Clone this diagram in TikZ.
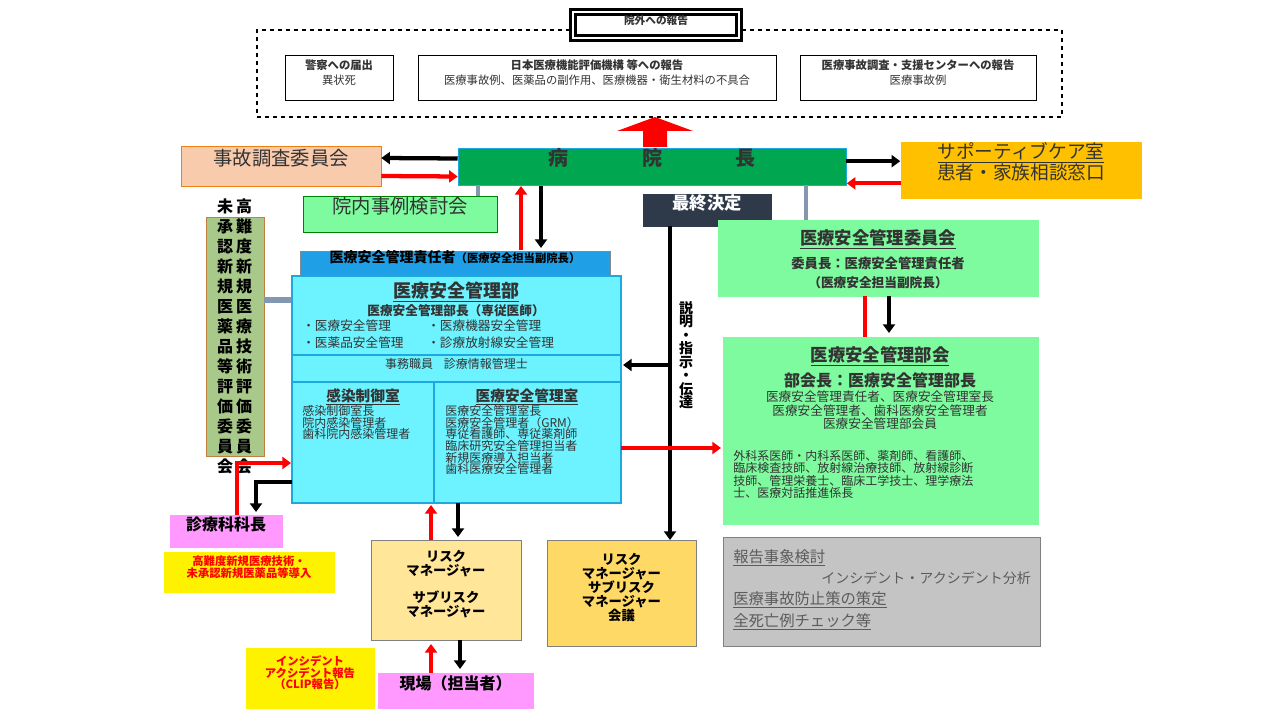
\documentclass[tikz,border=0pt]{standalone}
\usepackage{fontspec}
\setmainfont{Noto Sans CJK JP}
\usetikzlibrary{arrows.meta,fit}
\newcommand{\fsz}[1]{\fontsize{#1}{\fpeval{#1*1.25}}\selectfont}
\definecolor{hgreen}{HTML}{00A650}
\definecolor{peach}{HTML}{F8CBAD}
\definecolor{supy}{HTML}{FFC000}
\definecolor{lgreen}{HTML}{7DFB9E}
\definecolor{cyanb}{HTML}{6CF3FF}
\definecolor{cyanl}{HTML}{1EA8E0}
\definecolor{blueb}{HTML}{1E9FE6}
\definecolor{olive}{HTML}{A9C98A}
\definecolor{pinkb}{HTML}{FF99FF}
\definecolor{rmy}{HTML}{FFE699}
\definecolor{rmy2}{HTML}{FFD966}
\definecolor{grayb}{HTML}{C4C4C4}
\definecolor{navy}{HTML}{2E3A4A}
\definecolor{conn}{HTML}{8497B0}
\definecolor{txt}{HTML}{333333}
\begin{document}
\begin{tikzpicture}[x=0.75pt,y=-0.75pt,
  box/.style={draw, inner sep=0pt, align=center, text=txt},
  ar/.style={line width=3.2pt,-{Triangle[width=9pt,length=6.5pt]}},
  blk/.style={ar,black}, rd/.style={ar,red}]
\useasboundingbox (0,0) rectangle (1280,720);
\fill[white] (0,0) rectangle (1280,720);
% top
\node[draw,dashed,thick,inner sep=0, fit={(257,30)(1062,117)}] (outer) {};
\node[box,line width=2.4pt,double,double distance=1.2pt,fill=white,fit={(573,12)(739,38)},font=\fsz{8}\bfseries] (tt) {院外への報告};
\node[box,fit={(285,55)(393,100)},font=\fsz{8.5}] (pol) {\textbf{警察への届出}\\異状死};
\node[box,fit={(418,55)(776,100)},font=\fsz{8.5}] (jq) {\textbf{日本医療機能評価機構 等への報告}\\医療事故例、医薬品の副作用、医療機器・衛生材料の不具合};
\node[box,fit={(800,55)(1036,100)},font=\fsz{8.5}] (ctr) {\textbf{医療事故調査・支援センターへの報告}\\医療事故例};
\fill[red] (643,147)--(643,131)--(617,131)--(655,117)--(693,131)--(667,131)--(667,147)--cycle;
% hospital director
\node[box,draw=cyanl,fill=hgreen,fit={(458,148)(846,185)},font=\fsz{15}\bfseries] (hosp) {病\hspace{55pt}院\hspace{55pt}長};
\node[box,draw=orange!70!brown,fill=peach,fit={(181,146)(381,186)},font=\fsz{14.5}] (jiko) {事故調査委員会};
\node[box,draw=supy,fill=supy,fit={(901,142)(1141,198)},font=\fsz{14}] (sup) {\underline{サポーティブケア室}\\[-2pt]患者・家族相談窓口};
\draw[blk] ([yshift=6pt]hosp.west) -- ([yshift=6pt]jiko.east);
\draw[rd] ([yshift=-7.5pt]jiko.east) -- ([yshift=-7.5pt]hosp.west);
\draw[blk] ([yshift=4pt]hosp.east) -- ++(54,0);
\draw[rd] ([yshift=-10pt]sup.west) -- ++(-54,0);
% connectors gray
\draw[conn,line width=3pt] (478,185) -- (478,196);
\draw[conn,line width=3pt] (806,185) -- (806,220);
\node[box,draw=green!50!black,fill=lgreen,fit={(303,196)(497,232)},font=\fsz{14.5}] (innai) {院内事例検討会};
\node[box,draw=navy,fill=navy,text=white,fit={(643,194)(771,226)},font=\fsz{13}\bfseries] (final) {最終決定};
% vertical olive
\node[box,draw=brown,fill=olive,fit={(206,217)(264,456)},text=black] (olv) {};
\node[font=\fsz{12}\bfseries,align=center,inner sep=0] at (244,336) {高\\難\\度\\新\\規\\医\\療\\技\\術\\評\\価\\委\\員\\会};
\node[font=\fsz{12}\bfseries,align=center,inner sep=0] at (225,336) {未\\承\\認\\新\\規\\医\\薬\\品\\等\\評\\価\\委\\員\\会};
\draw[conn,line width=5pt] (264,300) -- (292,300);
% arrows hosp <-> responsible
\draw[rd] (521,250) -- (521,186);
\draw[blk] (541,186) -- (541,248);
\node[box,draw=navy!60,fill=blueb,fit={(300,251)(610,275)},font=\fsz{10.5}\bfseries,text=black] (resp) {医療安全管理責任者{\fsz{8.5}（医療安全担当副院長）}};
% dept
\node[box,draw=cyanl,line width=1.5pt,fill=cyanb,fit={(292,276)(621,503)}] (dept) {};
\node[box,draw=cyanl,line width=1.5pt,fit={(292,355)(621,382)},font=\fsz{9}] (jimu) {事務職員\hspace{8pt}診療情報管理士};
\node[box,draw=cyanl,line width=1.5pt,fit={(292,382)(434,503)}] (kan) {};
\node[box,draw=cyanl,line width=1.5pt,fit={(434,382)(621,503)}] (anz) {};
\node[font=\fsz{13.5}\bfseries,inner sep=0,text=txt] at (456,292) {\underline{医療安全管理部}};
\node[font=\fsz{9.5}\bfseries,inner sep=0,text=txt] at (456,311) {医療安全管理部長（専従医師）};
\node[font=\fsz{9.5},inner sep=0,text=txt,anchor=west] at (302,326) {・医療安全管理};
\node[font=\fsz{9.5},inner sep=0,text=txt,anchor=west] at (302,343) {・医薬品安全管理};
\node[font=\fsz{9.5},inner sep=0,text=txt,anchor=west] at (427,326) {・医療機器安全管理};
\node[font=\fsz{9.5},inner sep=0,text=txt,anchor=west] at (427,343) {・診療放射線安全管理};
\node[font=\fsz{11}\bfseries,inner sep=0,text=txt] at (363,397) {\underline{感染制御室}};
\node[font=\fsz{9},inner sep=0,text=txt,anchor=north west,align=left] at (302,405) {感染制御室長\\[-2.5pt]院内感染管理者\\[-2.5pt]歯科院内感染管理者};
\node[font=\fsz{11}\bfseries,inner sep=0,text=txt] at (527,397) {\underline{医療安全管理室}};
\node[font=\fsz{9},inner sep=0,text=txt,anchor=north west,align=left] at (445,405) {医療安全管理室長\\[-2.5pt]医療安全管理者（GRM）\\[-2.5pt]専従看護師、専従薬剤師\\[-2.5pt]臨床研究安全管理担当者\\[-2.5pt]新規医療導入担当者\\[-2.5pt]歯科医療安全管理者};
% committees
\node[box,draw=lgreen,fill=lgreen,fit={(718,220)(1038,296)}] (iin) {};
\node[font=\fsz{13}\bfseries,inner sep=0,text=txt] at (878,239) {\underline{医療安全管理委員会}};
\node[font=\fsz{10}\bfseries,inner sep=0,text=txt] at (878,263) {委員長：医療安全管理責任者};
\node[font=\fsz{9.5}\bfseries,inner sep=0,text=txt] at (878,283) {（医療安全担当副院長）};
\node[box,draw=lgreen,fill=lgreen,fit={(723,337)(1038,524)}] (bukai) {};
\node[font=\fsz{13}\bfseries,inner sep=0,text=txt] at (880,356) {\underline{医療安全管理部会}};
\node[font=\fsz{12}\bfseries,inner sep=0,text=txt] at (880,380) {部会長：医療安全管理部長};
\node[font=\fsz{9.5},inner sep=0,text=txt,align=center,anchor=north] at (880,391) {医療安全管理責任者、医療安全管理室長\\[-2pt]医療安全管理者、歯科医療安全管理者\\[-2pt]医療安全管理部会員};
\node[font=\fsz{9},inner sep=0,text=txt,align=left,anchor=north west] at (733,450) {外科系医師・内科系医師、薬剤師、看護師、\\[-2pt]臨床検査技師、放射線治療技師、放射線診断\\[-2pt]技師、管理栄養士、臨床工学技士、理学療法\\[-2pt]士、医療対話推進係長};
\draw[red,line width=3.2pt] (865,296) -- (865,337);
\draw[blk] (889,296) -- (889,333);
% main vertical
\draw[blk] ([xshift=-27.75pt]final.south) -- (670,540);
\node[font=\fsz{10.5}\bfseries,align=center,inner sep=0] at (686,355) {説\\[-3pt]明\\[-3pt]・\\[-3pt]指\\[-3pt]示\\[-3pt]・\\[-3pt]伝\\[-3pt]達};
\draw[blk] (670,365) -- (623,365);
\draw[rd] (621,448) -- (721,448);
% left side
\node[box,draw=pinkb,fill=pinkb,fit={(170,515)(282,547)},font=\fsz{12}\bfseries,text=black] (ka) {診療科科長};
\draw[rd] (237,515) -- (237,463) -- (291,463);
\draw[blk] (292,482) -- (256,482) -- (256,512);
\node[box,draw=yellow,fill=yellow,fit={(164,552)(334,592)},font=\fsz{8.5}\bfseries,text=red] (kou) {高難度新規医療技術・\\[-2pt]未承認新規医薬品等導入};
% risk managers
\node[box,draw=gray,fill=rmy,fit={(371,540)(521,640)},font=\fsz{10}\bfseries,text=black] (rm) {リスク\\[-2pt]マネージャー\\[8pt]サブリスク\\[-2pt]マネージャー};
\node[box,draw=gray,fill=rmy2,fit={(547,540)(696,646)},font=\fsz{10}\bfseries,text=black] (rm2) {リスク\\[-2pt]マネージャー\\[-2pt]サブリスク\\[-2pt]マネージャー\\[-2pt]会議};
\draw[rd] (431,540) -- (431,505);
\draw[blk] (458,503) -- (458,537);
\node[box,draw=pinkb,fill=pinkb,fit={(378,673)(533,708)},font=\fsz{12}\bfseries,text=black] (gen) {現場（担当者）};
\draw[rd] (431,673) -- (431,644);
\draw[blk] (460,640) -- (460,669);
\node[box,draw=yellow,fill=yellow,fit={(246,648)(374,708)},font=\fsz{8.5}\bfseries,text=red] (clip) {インシデント\\[-2pt]アクシデント報告\\[-2pt]（CLIP報告）};
% gray box
\node[box,draw=gray,fill=grayb,fit={(723,537)(1040,646)}] (gry) {};
\node[font=\fsz{11.5},inner sep=0,text=txt!80,anchor=west] at (733,558) {\underline{報告事象検討}};
\node[font=\fsz{10.5},inner sep=0,text=txt!80,anchor=east] at (1031,578) {インシデント・アクシデント分析};
\node[font=\fsz{11.5},inner sep=0,text=txt!80,anchor=west] at (733,600) {\underline{医療事故防止策の策定}};
\node[font=\fsz{11.5},inner sep=0,text=txt!80,anchor=west] at (733,622) {\underline{全死亡例チェック等}};
\end{tikzpicture}
\end{document}
